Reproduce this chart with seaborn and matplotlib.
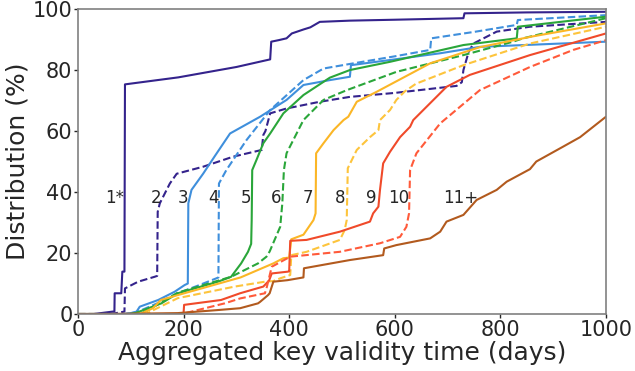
import matplotlib
matplotlib.use("Agg")
import matplotlib.pyplot as plt
import seaborn as sns
import pandas as pd

# CDF traces: days (x) and cumulative share in % (y)
days_1 = [0, 30, 66, 69, 69.5, 82, 84, 88, 89, 190, 300, 364, 366, 380, 395, 405, 427, 440, 458, 515, 600, 730, 732, 850, 1000]
pct_1 = [0, 0, 0.8, 0.8, 6.8, 6.8, 13.9, 13.9, 75.3, 77.6, 81, 83.5, 89.3, 89.8, 90.4, 92, 93.3, 94, 95.8, 96.2, 96.5, 97, 98.6, 98.9, 99.1]

days_2 = [0, 50, 69, 88, 89, 114, 145, 150, 151, 155, 174, 187, 237, 294, 348, 351, 355, 364, 395, 458, 515, 600, 717, 727, 730, 740, 749, 793, 856, 1000]
pct_2 = [0, 0, 0.2, 0.8, 8.4, 10.6, 12.2, 12.5, 33.5, 36.3, 42.8, 46, 48.3, 51.6, 53.8, 58.7, 60, 65.8, 67.4, 69.6, 71.2, 72.5, 74.8, 76, 80, 86, 88.7, 92.6, 94.2, 95.8]

days_3 = [0, 85, 100, 111, 117, 152, 183, 202, 208, 209, 215, 237, 260, 288, 345, 395, 427, 477, 515, 517, 600, 686, 761, 1000]
pct_3 = [0, 0, 0.3, 0.8, 2.4, 4.6, 7.3, 9.5, 10, 36.3, 40.7, 46, 52, 59.2, 64.7, 70.2, 75.1, 76.7, 77.8, 81.6, 83.5, 85.5, 87.6, 89.3]

days_4 = [0, 90, 110, 150, 189, 230, 262, 266, 267, 281, 319, 364, 427, 465, 515, 600, 667, 669, 750, 831, 833, 1000]
pct_4 = [0, 0, 0.5, 3.5, 6.8, 9.5, 11.7, 12, 42.8, 47.2, 57, 66.9, 76.7, 80.5, 82, 84.5, 86.6, 90.4, 92.5, 94.8, 96.4, 98]

days_5 = [0, 95, 107, 158, 189, 265, 290, 309, 322, 328, 329, 330, 338, 351, 364, 389, 427, 477, 515, 591, 730, 831, 833, 1000]
pct_5 = [0, 0, 0.2, 3.5, 6.8, 10.6, 12.2, 16.6, 20.4, 23, 30.8, 47.2, 50.5, 56, 59.2, 65.8, 71.8, 77.5, 80, 82.7, 88.2, 90.4, 94.2, 97.5]

days_6 = [0, 100, 130, 189, 290, 341, 357, 363, 383, 387, 390, 395, 427, 465, 509, 603, 730, 824, 843, 1000]
pct_6 = [0, 0, 1, 7, 12.2, 16.6, 18.8, 20.5, 28.6, 36.3, 47.2, 52.7, 63.6, 70.2, 73.4, 79.4, 84.9, 89.3, 90.4, 97]

days_7 = [0, 110, 120, 142, 157, 189, 308, 370, 389, 400, 404, 427, 446, 450, 451, 465, 484, 503, 512, 528, 566, 667, 761, 860, 1000]
pct_7 = [0, 0, 0.2, 1.9, 4.6, 6.2, 12, 16.6, 18.3, 18.5, 24.5, 26, 30.8, 33, 52.7, 56, 60.3, 63.6, 64.7, 69.6, 72.9, 82.2, 87.5, 91, 95.3]

days_8 = [0, 120, 130, 189, 297, 354, 370, 383, 402, 404, 433, 496, 505, 509, 511, 528, 553, 569, 572, 591, 603, 619, 640, 730, 856, 1000]
pct_8 = [0, 0, 0.2, 5.2, 9, 10.6, 10.8, 11.7, 12.8, 19.3, 20.4, 24.3, 27.5, 30.8, 47.8, 53.8, 58, 60.3, 63.6, 66.9, 70.2, 73, 75.5, 81.6, 88.7, 94.2]

days_9 = [0, 195, 200, 201, 271, 307, 351, 362, 367, 398, 400, 402, 433, 496, 553, 559, 569, 572, 578, 591, 610, 629, 635, 698, 742, 856, 1000]
pct_9 = [0, 0, 0.3, 3, 4.6, 6.8, 9, 11, 13.3, 13.9, 14, 24, 24.3, 27, 30.3, 33, 35.2, 40.7, 49.4, 53.2, 58, 61.4, 63.6, 74.5, 78.4, 84.9, 92]

days_10 = [0, 200, 208, 278, 307, 354, 357, 367, 402, 496, 572, 610, 622, 627, 629, 641, 686, 761, 856, 938, 1000]
pct_10 = [0, 0, 0.5, 3.5, 5.1, 6.8, 8.4, 15.5, 18.8, 20.4, 23.2, 25.3, 28.6, 33, 47.2, 52.7, 62.5, 73.4, 81, 86.6, 89.8]

days_11 = [0, 60, 189, 265, 307, 341, 345, 360, 363, 370, 397, 427, 428, 515, 578, 580, 603, 667, 686, 698, 730, 755, 793, 812, 856, 868, 919, 951, 1000]
pct_11 = [0, 0, 0.3, 1.3, 1.9, 3.5, 4, 6.2, 6.8, 10.6, 11.1, 12, 15, 17.7, 19.3, 21.5, 22.6, 24.8, 27, 30.3, 32.5, 37.4, 40.7, 43.4, 47.5, 50, 54.9, 58, 64.7]

groups = ["1*", "2", "3", "4", "5", "6", "7", "8", "9", "10", "11+"]
label_days = [69, 147, 199, 257, 318, 375, 436, 497, 556, 608, 725]
label_pct = 38

colors = ["#34238c", "#34238c", "#3f8fdc", "#3f8fdc", "#2aa63a", "#2aa63a",
          "#fbb626", "#fdc43c", "#f04a2a", "#ff5a3a", "#b25a1e"]
line_kind = ["solid", "dashed", "solid", "dashed", "solid", "dashed",
             "solid", "dashed", "solid", "dashed", "solid"]

all_days = [days_1, days_2, days_3, days_4, days_5, days_6, days_7, days_8, days_9, days_10, days_11]
all_pct = [pct_1, pct_2, pct_3, pct_4, pct_5, pct_6, pct_7, pct_8, pct_9, pct_10, pct_11]

frames = []
for g, d, p in zip(groups, all_days, all_pct):
    frames.append(pd.DataFrame({"day": d, "pct": p, "group": g}))
df = pd.concat(frames, ignore_index=True)

sns.set_style("white")
plt.rcParams["font.family"] = ["DejaVu Sans"]

fig = plt.figure(figsize=(6.35, 3.71), dpi=100)
ax = fig.add_axes([0.1228, 0.1536, 0.8315, 0.822])

palette = dict(zip(groups, colors))
dashes = {g: ("" if k == "solid" else (3.6, 1.6)) for g, k in zip(groups, line_kind)}

sns.lineplot(data=df, x="day", y="pct", hue="group", style="group",
             palette=palette, dashes=dashes, estimator=None, sort=False,
             legend=False, linewidth=1.5, ax=ax)

for g, xd in zip(groups, label_days):
    ax.text(xd, label_pct, g, fontsize=12, color="#262626", ha="center", va="center")

ax.set_xlim(0, 1000)
ax.set_ylim(0, 100)
ax.set_xticks([0, 200, 400, 600, 800, 1000])
ax.set_yticks([0, 20, 40, 60, 80, 100])
ax.set_xlabel("Aggregated key validity time (days)", fontsize=18, color="#262626", labelpad=1)
ax.set_ylabel("Distribution (%)", fontsize=18, color="#262626", labelpad=2)
ax.tick_params(axis="both", labelsize=15, colors="#262626", length=3, width=1,
               bottom=True, left=True, pad=1)
for side in ax.spines.values():
    side.set_color("#808080")
    side.set_linewidth(1.2)

fig.savefig("out.png", dpi=100)
